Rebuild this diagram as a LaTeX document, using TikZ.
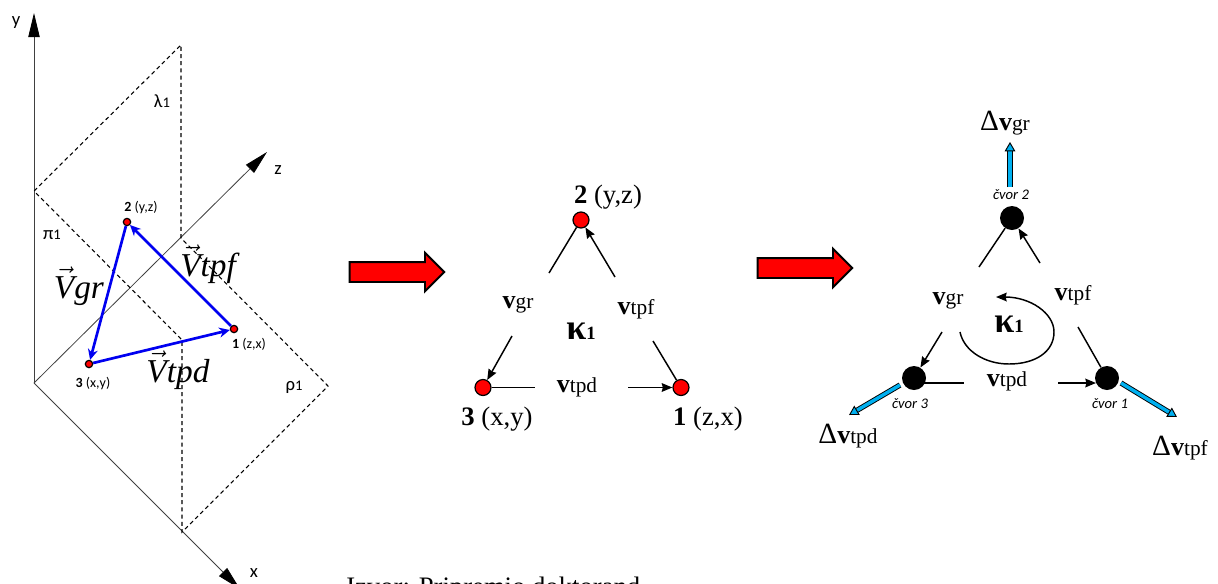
\documentclass[tikz,border=0pt]{standalone}
\usepackage{amsmath}
\usepackage{fontspec}
\usepackage{tikz}
\usepackage{xcolor}
\setmainfont{Liberation Serif}
\newfontfamily\calibrifont{Carlito}
\usetikzlibrary{shapes.arrows, arrows.meta, positioning, calc}
\definecolor{cRed}{RGB}{255,0,0}
\definecolor{cBlue}{RGB}{0,0,240}
\definecolor{cSky}{RGB}{0,176,240}
\newcommand{\vlab}[1]{{\fontsize{19.5}{20}\selectfont\bfseries v}{\fontsize{16}{20}\selectfont #1}}
\newcommand{\dvlab}[1]{{\fontsize{22}{22}\selectfont Δ}\vlab{#1}}
\newcommand{\klab}{{\fontsize{27}{26}\selectfont\bfseries κ}{\fontsize{14}{14}\selectfont\bfseries 1}}
\newcommand{\vvec}[1]{$\vec{\mbox{\itshape V}}$\textit{#1}}
\tikzset{
	axisl/.style    ={line width=0.6pt, black!75, -{Triangle[length=18pt, width=8.5pt, black]}},
	plane/.style    ={dashed, dash pattern=on 3pt off 2.4pt, line width=0.8pt},
	bluev/.style    ={cBlue, line width=2pt, -{Stealth[length=8pt, width=7.5pt]}},
	sig/.style      ={line width=1.1pt, -{Stealth[length=8pt, width=6.5pt, inset=0.8pt]}},
	lin/.style      ={line width=1.1pt},
	dvec/.style     ={double=cSky, double distance=2.6pt, line width=0.7pt, -{Triangle[length=7pt, width=8pt, fill=cSky, line width=0.7pt]}},
	rednode/.style  ={circle, draw=black, fill=cRed, line width=0.9pt, minimum size=12pt, inner sep=0pt},
	smallnode/.style={circle, draw=black, fill=cRed, line width=0.9pt, minimum size=5.5pt, inner sep=0pt},
	blacknode/.style={circle, fill=black, minimum size=18pt, inner sep=0pt},
	bigarrow/.style ={single arrow, draw=black, fill=cRed, line width=1.4pt, minimum height=71pt, minimum width=27pt, single arrow head extend=7pt, inner sep=0pt},
	axtxt/.style    ={font=\calibrifont\fontsize{14}{15}\selectfont},
	ptxt/.style     ={font=\calibrifont\fontsize{10.5}{11}\selectfont},
	cvtxt/.style    ={font=\calibrifont\itshape\fontsize{11}{12}\selectfont},
	vvtxt/.style    ={font=\fontsize{25}{26}\selectfont},
	ntxt/.style     ={font=\fontsize{20}{22}\selectfont},
}
\begin{document}
\begin{tikzpicture}[x=0.75pt, y=-0.75pt]
	\useasboundingbox (0,0) rectangle (1218,583);
	% axes and planes
	\coordinate (o) at (34,383);
	\coordinate (ytip) at (34,13);
	\coordinate (ztip) at (267,152);
	\coordinate (xtip) at (240,589);
	\coordinate (pt) at (181,45);
	\coordinate (pl) at (34,191);
	\coordinate (pz) at (181,238);
	\coordinate (pm) at (182,340);
	\coordinate (pr) at (328,386);
	\coordinate (px) at (182,532);
	\draw[axisl] (o) -- (ytip);
	\draw[axisl] (o) -- (ztip);
	\draw[axisl] (o) -- (xtip);
	\draw[plane] (pz) -- (pt) -- (pl) -- (pm) -- (px) -- (pr) -- (pz);
	\node[axtxt] (ylab) at (16,23) {y};
	\node[axtxt] (zlab) at (278,170) {z};
	\node[axtxt] (xlab) at (254,573) {x};
	\node[axtxt] (lam) at (162,101) {λ{\fontsize{11}{10}\selectfont 1}};
	\node[axtxt] (pii) at (52,235) {π{\fontsize{11}{10}\selectfont 1}};
	\node[axtxt] (rho) at (294,387) {ρ{\fontsize{11}{10}\selectfont 1}};
	% triangle in space
	\node[smallnode] (a2) at (127,222) {};
	\node[smallnode] (a3) at (89,364) {};
	\node[smallnode] (a1) at (234,329) {};
	\draw[bluev] (a1) -- (a2);
	\draw[bluev] (a2) -- (a3);
	\draw[bluev] (a3) -- (a1);
	\node[ptxt] at (141,208) {\textbf{2} (y,z)};
	\node[ptxt] at (93,383) {\textbf{3} (x,y)};
	\node[ptxt] at (249,344) {\textbf{1} (z,x)};
	\node[vvtxt] at (79,286) {\vvec{gr}};
	\node[vvtxt] at (210,264) {\vvec{tpf}};
	\node[vvtxt] at (178,370) {\vvec{tpd}};
	% arrows between the stages
	\node[bigarrow] (go1) at (392,272) {\rule{0pt}{13.5pt}};
	\node[bigarrow] (go2) at (800,268) {\rule{0pt}{13.5pt}};
	% middle triangle
	\node[rednode] (b2) at (581,220) {};
	\node[rednode] (b3) at (483,387.5) {};
	\node[rednode] (b1) at (681,387.5) {};
	\coordinate (b2l) at (549,273);
	\coordinate (b2r) at (615,277);
	\coordinate (b3u) at (512,336);
	\coordinate (b1u) at (653,341);
	\coordinate (b3r) at (535,387.5);
	\coordinate (b1l) at (628,387.5);
	\draw[lin] (b2) -- (b2l);
	\draw[sig] (b2r) -- (b2);
	\draw[sig] (b3u) -- (b3);
	\draw[lin] (b1u) -- (b1);
	\draw[lin] (b3) -- (b3r);
	\draw[sig] (b1l) -- (b1);
	\node at (518,305) {\vlab{gr}};
	\node at (636,309) {\vlab{tpf}};
	\node at (577,387) {\vlab{tpd}};
	\node at (581,331) {\klab};
	\node[ntxt] at (608,197) {\textbf{2} (y,z)};
	\node[ntxt] at (497,419) {\textbf{3} (x,y)};
	\node[ntxt] at (708,419) {\textbf{1} (z,x)};
	% right triangle
	\node[blacknode] (c2) at (1012,218) {};
	\node[blacknode] (c3) at (914,378) {};
	\node[blacknode] (c1) at (1107,378) {};
	\coordinate (c2l) at (979,267);
	\coordinate (c2r) at (1040,263);
	\coordinate (c3u) at (942,332);
	\coordinate (c1u) at (1078,327);
	\coordinate (c3e) at (924,383);
	\coordinate (c1w) at (1096,383);
	\coordinate (c3r) at (964,383);
	\coordinate (c1l) at (1058,383);
	\draw[lin] (c2) -- (c2l);
	\draw[sig] (c2r) -- (c2);
	\draw[sig] (c3u) -- (c3);
	\draw[lin] (c1u) -- (c1);
	\draw[lin] (c3e) -- (c3r);
	\draw[sig] (c1l) -- (c1w);
	\coordinate (loopa) at (960,332);
	\coordinate (loopb) at (996,297);
	\draw[sig] (loopa) .. controls (964,351) and (985,364) .. (1009,364) .. controls (1035,364) and (1054,352) .. (1054,332) .. controls (1054,313) and (1030,297) .. (loopb);
	\node at (948,301) {\vlab{gr}};
	\node at (1073,295) {\vlab{tpf}};
	\node at (1007,381) {\vlab{tpd}};
	\node at (1009,324) {\klab};
	% outflow at the corners
	\coordinate (d2a) at (1010,187);
	\coordinate (d2b) at (1010,142);
	\coordinate (d3a) at (900,385);
	\coordinate (d3b) at (849,415);
	\coordinate (d1a) at (1121,383);
	\coordinate (d1b) at (1177,417);
	\draw[dvec] (d2a) -- (d2b);
	\draw[dvec] (d3a) -- (d3b);
	\draw[dvec] (d1a) -- (d1b);
	\node[cvtxt] at (1011,195) {čvor 2};
	\node[cvtxt] at (910,404) {čvor 3};
	\node[cvtxt] at (1110,404) {čvor 1};
	\node at (1005,123) {\dvlab{gr}};
	\node at (848,436) {\dvlab{tpd}};
	\node at (1180,448) {\dvlab{tpf}};
	\node[ntxt, anchor=base west, inner sep=0pt] (izvor) at (346,595) {Izvor: Pripremio doktorand};
\end{tikzpicture}
\end{document}
